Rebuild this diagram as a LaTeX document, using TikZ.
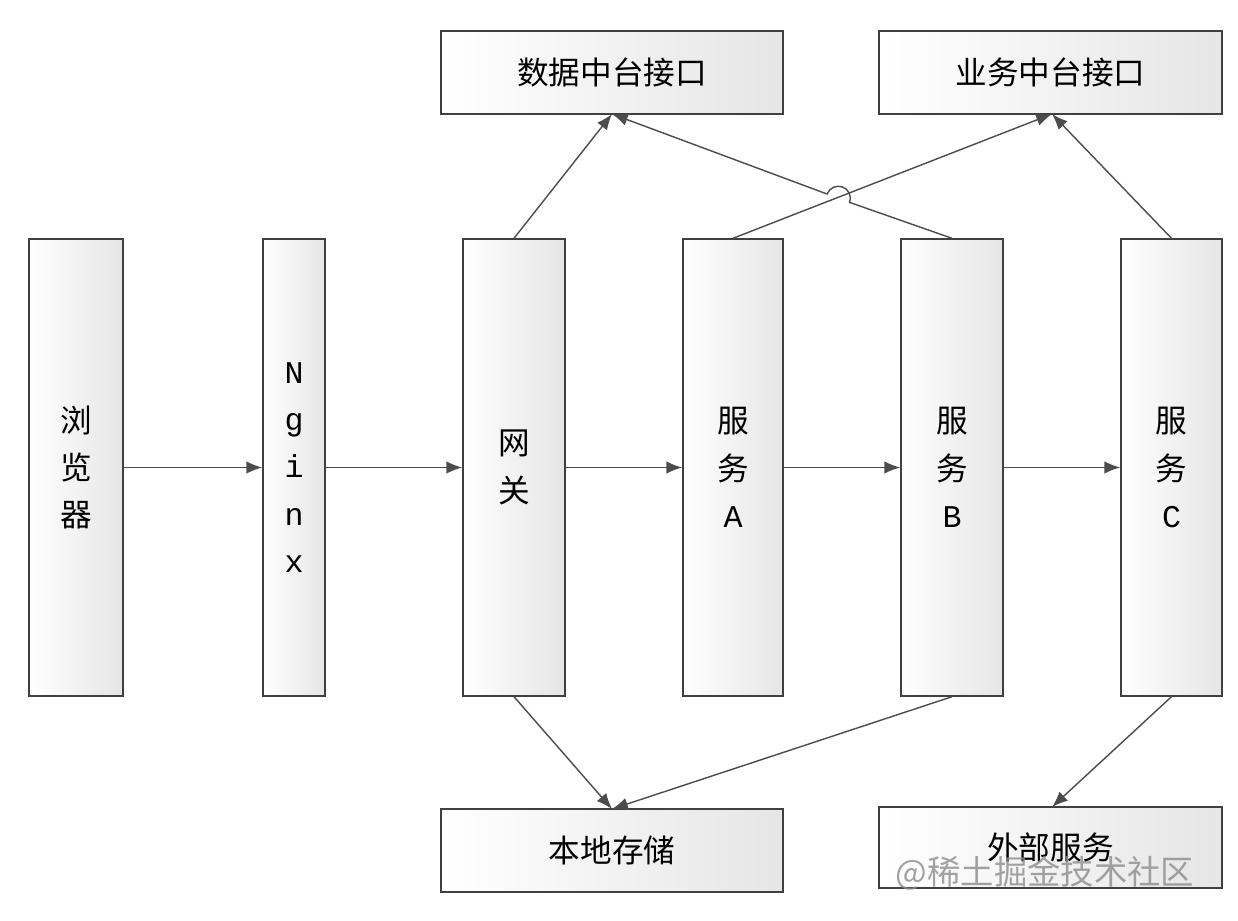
\documentclass[tikz,border=0pt]{standalone}
\usepackage{fontspec}
\setmainfont{Noto Sans CJK SC}
\newfontfamily\latn{Liberation Mono}
\usetikzlibrary{arrows.meta}
\tikzset{
  box/.style={draw=black!75, line width=0.8pt, left color=white, right color=black!10,
    inner sep=0pt, align=center, font=\fontsize{18}{27}\selectfont},
  link/.style={draw=black!70, line width=0.8pt, -{Latex[length=9pt,width=7pt]}}
}
\begin{document}
\begin{tikzpicture}[x=0.2mm,y=0.2mm]
\useasboundingbox (0,0) rectangle (1238,920);
\fill[white] (0,0) rectangle (1238,920);

% vertical boxes
\node[box, minimum width=94*0.2mm, minimum height=457*0.2mm] (browser) at (76,452.5) {浏\\览\\器};
\node[box, minimum width=62*0.2mm, minimum height=457*0.2mm] (nginx) at (294,452.5) {\latn N\\\latn g\\\latn i\\\latn n\\\latn x};
\node[box, minimum width=102*0.2mm, minimum height=457*0.2mm] (gate) at (514,452.5) {网\\关};
\node[box, minimum width=100*0.2mm, minimum height=457*0.2mm] (srvA) at (733,452.5) {服\\务\\\latn A};
\node[box, minimum width=102*0.2mm, minimum height=457*0.2mm] (srvB) at (952,452.5) {服\\务\\\latn B};
\node[box, minimum width=101*0.2mm, minimum height=457*0.2mm] (srvC) at (1171.5,452.5) {服\\务\\\latn C};

% horizontal boxes
\node[box, minimum width=342*0.2mm, minimum height=83*0.2mm] (data) at (612,847.5) {数据中台接口};
\node[box, minimum width=343*0.2mm, minimum height=83*0.2mm] (biz) at (1050.5,847.5) {业务中台接口};
\node[box, minimum width=342*0.2mm, minimum height=83*0.2mm] (store) at (612,69.5) {本地存储};
\node[box, minimum width=343*0.2mm, minimum height=81*0.2mm] (ext) at (1050.5,72.5) {外部服务};

% main chain
\draw[link] (browser) -- (nginx);
\draw[link] (nginx) -- (gate);
\draw[link] (gate) -- (srvA);
\draw[link] (srvA) -- (srvB);
\draw[link] (srvB) -- (srvC);

% upward calls
\coordinate (dataIn) at (612,806);
\coordinate (bizIn) at (1052,806);
\draw[link] (gate.north) -- (dataIn);
\draw[link] (srvA.north) -- (bizIn);
\draw[link] (srvC.north) -- (bizIn);
\draw[link] (srvB.north) -- (849.6,717.6) arc[start angle=-20.4, end angle=159.6, radius=12] -- (dataIn);

% downward calls
\coordinate (storeIn) at (612,111);
\draw[link] (gate.south) -- (storeIn);
\draw[link] (srvB.south) -- (storeIn);
\draw[link] (srvC.south) -- (1052,113);

% watermark
\node[text=black!45, opacity=0.8, font=\fontsize{19}{22}\selectfont] (mark) at (1045,47) {@稀土掘金技术社区};
\end{tikzpicture}
\end{document}
